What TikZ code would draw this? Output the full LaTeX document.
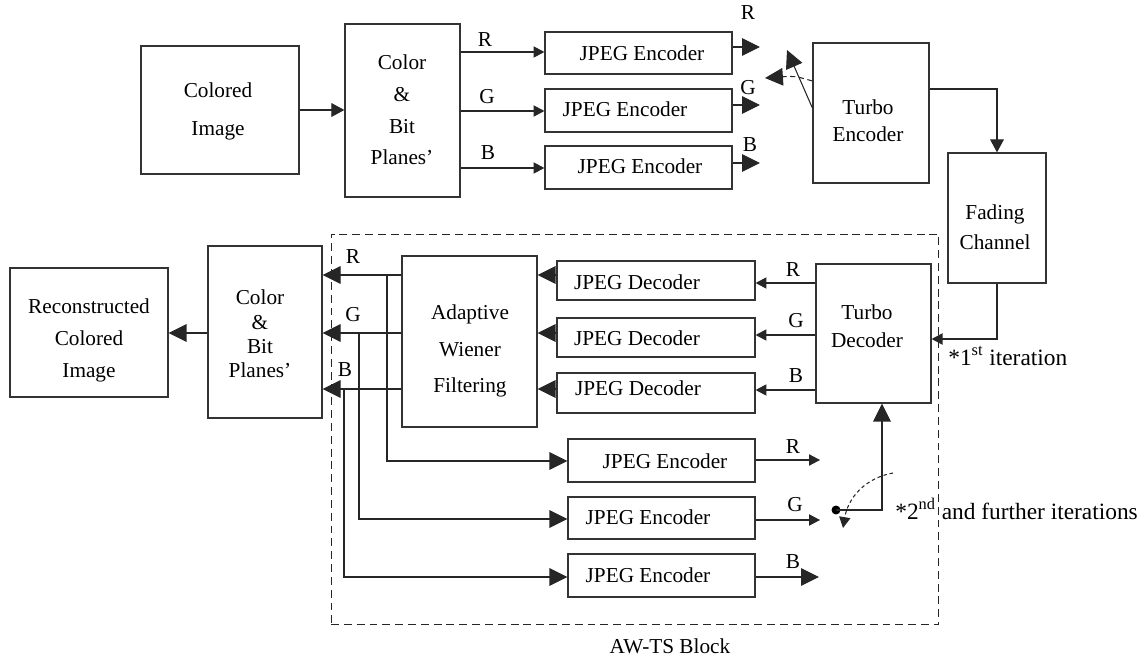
\documentclass[tikz,border=0pt]{standalone}
\usepackage{fontspec}
\setmainfont{Liberation Serif}
\usetikzlibrary{arrows.meta}

\begin{document}
\begin{tikzpicture}[x=0.02cm,y=-0.02cm,
  box/.style={draw=black!80, line width=0.7pt, inner sep=0pt},
  lbl/.style={inner sep=1pt, font=\fontsize{12.1}{14.5}\selectfont},
  note/.style={inner sep=0pt, anchor=west, font=\fontsize{13.3}{16}\selectfont},
  conn/.style={draw=black!85, line width=0.6pt},
  arrsmall/.style={conn, -{Triangle[length=6.2pt,width=6.4pt]}},
  arrmid/.style={conn, -{Triangle[length=7.4pt,width=7.8pt]}},
  arrbig/.style={conn, -{Triangle[length=10.2pt,width=10pt]}},
]
\useasboundingbox (0,0) rectangle (1147,662);

% ---------- transmitter ----------
\node[box, minimum width=3.16cm, minimum height=2.56cm] (ci) at (220,110) {};
\node[lbl, align=center, font=\fontsize{12.1}{21.6}\selectfont] (cit) at (218,111) {Colored\\Image};

\node[box, minimum width=2.3cm, minimum height=3.46cm] (cbp) at (402.5,110.5) {};
\node[lbl, align=center, font=\fontsize{12.1}{18}\selectfont] (cbpt) at (402,110) {Color\\\&\\Bit\\Planes’};

\node[box, minimum width=3.74cm, minimum height=0.84cm] (enc1) at (638.5,53) {};
\node[box, minimum width=3.74cm, minimum height=0.86cm] (enc2) at (638.5,110.5) {};
\node[box, minimum width=3.74cm, minimum height=0.86cm] (enc3) at (638.5,167.5) {};
\node[lbl] (enc1t) at (642,53) {JPEG Encoder};
\node[lbl] (enc2t) at (625,109) {JPEG Encoder};
\node[lbl] (enc3t) at (640,166) {JPEG Encoder};

\node[box, minimum width=2.32cm, minimum height=2.8cm] (te) at (871,113) {};
\node[lbl, align=center, font=\fontsize{12.1}{15.3}\selectfont] (tet) at (868,121) {Turbo\\Encoder};

\node[box, minimum width=1.96cm, minimum height=2.6cm] (fc) at (997,218) {};
\node[lbl, align=center, font=\fontsize{12.1}{17}\selectfont] (fct) at (995,227) {Fading\\Channel};

\draw[arrmid] (ci.east |- 0,110) -- (cbp.west |- 0,110);
\draw[arrsmall] (cbp.east |- 0,52) -- (enc1.west |- 0,52);
\draw[arrsmall] (cbp.east |- 0,111) -- (enc2.west |- 0,111);
\draw[arrsmall] (cbp.east |- 0,168) -- (enc3.west |- 0,168);
\node[lbl] (lr1) at (485,40) {R};
\node[lbl] (lg1) at (487,97) {G};
\node[lbl] (lb1) at (488,153) {B};

\coordinate (o1) at (760,47);
\coordinate (o2) at (760,105);
\coordinate (o3) at (760,163);
\draw[arrbig] (enc1.east |- o1) -- (o1);
\draw[arrbig] (enc2.east |- o2) -- (o2);
\draw[arrbig] (enc3.east |- o3) -- (o3);
\node[lbl] (lr2) at (748,13) {R};
\node[lbl] (lg2) at (748,88) {G};
\node[lbl] (lb2) at (750,145) {B};

% encoder input switch
\coordinate (swtip) at (787,50);
\coordinate (swdash) at (765,78);
\draw[arrbig] (te.west |- 0,108) -- (swtip);
\draw[arrbig, dash pattern=on 3pt off 2pt] (te.west |- 0,81) .. controls (795,76) .. (swdash);

\draw[arrmid] (te.east |- 0,89) -| (fc.north);

% ---------- receiver ----------
\node[box, draw=black!85, line width=0.6pt, dash pattern=on 4.5pt off 2.8pt,
      minimum width=12.16cm, minimum height=7.82cm] (awts) at (635,429.5) {};
\node[lbl] (awtsl) at (670,646) {AW-TS Block};

\node[box, minimum width=2.3cm, minimum height=2.78cm] (td) at (873.5,333.5) {};
\node[lbl, align=center, font=\fontsize{12.1}{15.9}\selectfont] (tdt) at (867,326) {Turbo\\Decoder};

\draw[arrsmall] (fc.south) |- (td.east |- 0,339);
\node[note] (it1) at (948,356) {*1\textsuperscript{st} iteration};

\node[box, minimum width=3.96cm, minimum height=0.78cm] (dec1) at (656,280.5) {};
\node[box, minimum width=3.96cm, minimum height=0.78cm] (dec2) at (656,337.5) {};
\node[box, minimum width=3.96cm, minimum height=0.8cm] (dec3) at (656,393) {};
\node[lbl] (dec1t) at (637,282) {JPEG Decoder};
\node[lbl] (dec2t) at (637,338) {JPEG Decoder};
\node[lbl] (dec3t) at (638,388) {JPEG Decoder};

\draw[arrsmall] (td.west |- 0,283) -- (dec1.east |- 0,283);
\draw[arrsmall] (td.west |- 0,335) -- (dec2.east |- 0,335);
\draw[arrsmall] (td.west |- 0,390) -- (dec3.east |- 0,390);
\node[lbl] (lr3) at (793,270) {R};
\node[lbl] (lg3) at (796,321) {G};
\node[lbl] (lb3) at (796,376) {B};

\node[box, minimum width=2.7cm, minimum height=3.42cm] (awf) at (469.5,341.5) {};
\node[lbl, align=center, font=\fontsize{12.1}{21}\selectfont] (awft) at (470,351) {Adaptive\\Wiener\\Filtering};

\draw[arrbig] (dec1.west |- 0,275) -- (awf.east |- 0,275);
\draw[arrbig] (dec2.west |- 0,333) -- (awf.east |- 0,333);
\draw[arrbig] (dec3.west |- 0,389) -- (awf.east |- 0,389);

\node[box, minimum width=2.28cm, minimum height=3.44cm] (cbp2) at (265,332) {};
\node[lbl, align=center, font=\fontsize{12.1}{13.8}\selectfont] (cbp2t) at (260,334) {Color\\\&\\Bit\\Planes’};

\draw[arrbig] (awf.west |- 0,275) -- (cbp2.east |- 0,275);
\draw[arrbig] (awf.west |- 0,333) -- (cbp2.east |- 0,333);
\draw[arrbig] (awf.west |- 0,389) -- (cbp2.east |- 0,389);
\node[lbl] (lr4) at (353,257) {R};
\node[lbl] (lg4) at (353,315) {G};
\node[lbl] (lb4) at (345,370) {B};

\node[box, minimum width=3.16cm, minimum height=2.58cm] (rec) at (89,332.5) {};
\node[lbl, align=center, font=\fontsize{12.1}{18.2}\selectfont] (rect) at (89,340) {Reconstructed\\Colored\\Image};
\draw[arrbig] (cbp2.west |- 0,333) -- (rec.east |- 0,333);

% re-encoding branches
\node[box, minimum width=3.74cm, minimum height=0.86cm] (benc1) at (661.5,460.5) {};
\node[box, minimum width=3.74cm, minimum height=0.84cm] (benc2) at (661.5,518) {};
\node[box, minimum width=3.74cm, minimum height=0.86cm] (benc3) at (661.5,575.5) {};
\node[lbl] (benc1t) at (665,461) {JPEG Encoder};
\node[lbl] (benc2t) at (648,517) {JPEG Encoder};
\node[lbl] (benc3t) at (648,575) {JPEG Encoder};

\coordinate (jr) at (387,275);
\coordinate (jg) at (359,333);
\coordinate (jb) at (344,389);
\draw[arrbig] (jr) |- (benc1.west |- 0,461);
\draw[arrbig] (jg) |- (benc2.west |- 0,519);
\draw[arrbig] (jb) |- (benc3.west |- 0,577);

\coordinate (q1) at (820,460);
\coordinate (q2) at (820,520);
\coordinate (q3) at (819,577);
\draw[arrsmall] (benc1.east |- q1) -- (q1);
\draw[arrsmall] (benc2.east |- q2) -- (q2);
\draw[arrbig] (benc3.east |- q3) -- (q3);
\node[lbl] (lr5) at (793,447) {R};
\node[lbl] (lg5) at (795,505) {G};
\node[lbl] (lb5) at (793,562) {B};

% decoder input switch
\node[circle, fill=black, inner sep=0pt, minimum size=0.18cm] (dot) at (836,510) {};
\draw[arrbig] (dot.center) -| (td.south -| 882,0);
\coordinate (sw2a) at (893,473);
\coordinate (sw2b) at (843,528);
\draw[arrsmall, dash pattern=on 2pt off 1.6pt] (sw2a) .. controls (865,478) and (848,498) .. (sw2b);
\node[note] (it2) at (895,509) {*2\textsuperscript{nd} and further iterations};

\end{tikzpicture}
\end{document}
